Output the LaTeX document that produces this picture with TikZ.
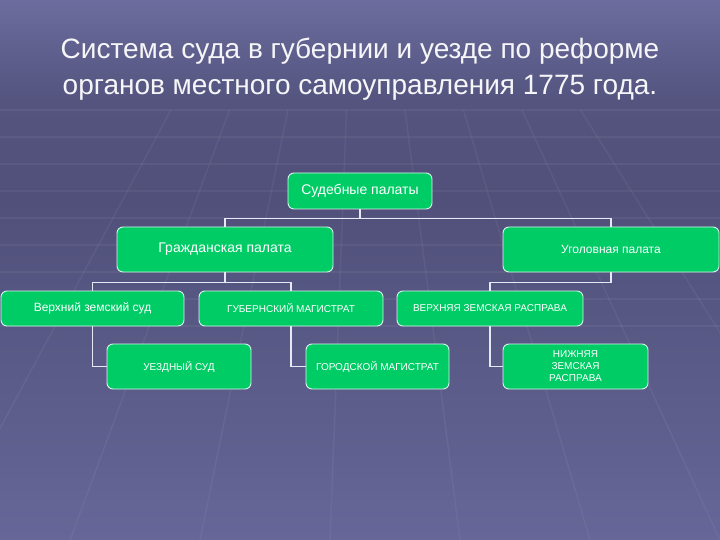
\documentclass[tikz,border=0pt]{standalone}
\usepackage{fontspec}
\setmainfont{Liberation Sans}
\usepackage{tikz}
\usetikzlibrary{
    positioning,
    calc
}
\definecolor{bgTop}{RGB}{108,108,158}
\definecolor{bgMid}{RGB}{80,80,122}
\definecolor{bgBot}{RGB}{102,102,152}
\definecolor{boxC}{RGB}{0,204,102}
\definecolor{rimC}{RGB}{215,245,235}
\definecolor{lineC}{RGB}{232,232,245}
\tikzset{
  box/.style    = {draw=rimC, line width=0.9bp, fill=boxC, rounded corners=6bp,
                   text=white, align=center, inner sep=0pt,
                   font=\fontsize{12bp}{14bp}\selectfont},
  bigbox/.style = {box, font=\fontsize{14bp}{16bp}\selectfont},
  capbox/.style = {box, font=\fontsize{10bp}{12bp}\selectfont},
  conn/.style   = {lineC, line width=1.8bp},
  grid/.style   = {white, opacity=0.05, line width=1.5bp}
}
\begin{document}
\begin{tikzpicture}[x=1bp, y=-1bp]

  %% -- Background -----------------------------------------------
  \shade[top color=bgTop, bottom color=bgMid, middle color=bgMid!85!bgTop]
    (0,0) rectangle (720,200);
  \shade[top color=bgMid, bottom color=bgBot] (0,200) rectangle (720,540);
  \useasboundingbox (0,0) rectangle (720,540);
  \foreach \y in {110,137,164,191,218,245,272,299,326}
    \draw[grid] (0,\y) -- (720,\y);
  \foreach \x in {-60,70,200,330,460,590,720,850}
    \draw[grid] (\x,540) -- ({360+(\x-360)*0.45},110);

  %% -- Title ----------------------------------------------------
  \node[text=white!94!bgTop, align=center,
        font=\fontsize{28bp}{36bp}\selectfont] (title) at (360,69)
    {Система суда в губернии и уезде по реформе\\
     органов местного самоуправления 1775 года.};

  %% -- Boxes ----------------------------------------------------
  \node[bigbox, minimum width=144bp, minimum height=36bp] (sud)   at (360,191)   {Судебные палаты};
  \node[bigbox, minimum width=216bp, minimum height=45bp] (grazh) at (225,249.5) {Гражданская палата};
  \node[box,    minimum width=216bp, minimum height=45bp] (ugol)  at (611,249.5) {Уголовная палата};

  \node[box,    minimum width=183bp, minimum height=35bp] (verh)  at (92.5,308.5) {Верхний земский суд};
  \node[capbox, minimum width=184bp, minimum height=35bp] (gub)   at (291,308.5)  {ГУБЕРНСКИЙ МАГИСТРАТ};
  \node[capbox, minimum width=186bp, minimum height=35bp] (verhr) at (490,308.5)  {ВЕРХНЯЯ ЗЕМСКАЯ РАСПРАВА};

  \node[capbox, minimum width=144bp, minimum height=45bp] (uezd)  at (179,366.5)   {УЕЗДНЫЙ СУД};
  \node[capbox, minimum width=143bp, minimum height=45bp] (gorod) at (377.5,366.5) {ГОРОДСКОЙ МАГИСТРАТ};
  \node[capbox, minimum width=145bp, minimum height=45bp] (nizh)  at (575.5,366.5) {НИЖНЯЯ\\ЗЕМСКАЯ\\РАСПРАВА};

  %% -- Connectors -----------------------------------------------
  \draw[conn] (sud.south)   -- ++(0,9)  -| (grazh.north);
  \draw[conn] (sud.south)   -- ++(0,9)  -| (ugol.north);
  \draw[conn] (grazh.south) -- ++(0,10) -| (verh.north);
  \draw[conn] (grazh.south) -- ++(0,10) -| (gub.north);
  \draw[conn] (ugol.south)  -- ++(0,10) -| (verhr.north);
  \draw[conn] (verh.south)  |- (uezd.west);
  \draw[conn] (gub.south)   |- (gorod.west);
  \draw[conn] (verhr.south) |- (nizh.west);

\end{tikzpicture}
\end{document}
